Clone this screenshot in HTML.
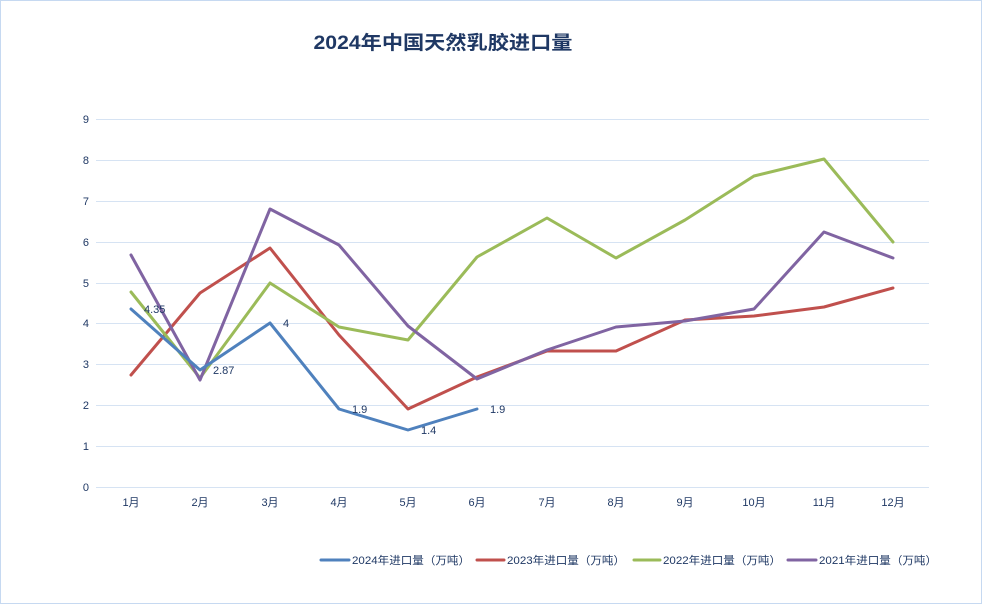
<!DOCTYPE html><html><head><meta charset="utf-8"><style>body{margin:0;background:#fff}svg{display:block}</style></head><body>
<svg width="982" height="604" xmlns="http://www.w3.org/2000/svg" font-family="Liberation Sans, Noto Sans CJK SC, sans-serif">
<rect x="0.5" y="0.5" width="981" height="603" fill="#fff" stroke="#c6d9f1"/>
<text x="443" y="49" text-anchor="middle" font-size="19" font-weight="bold" fill="#1f3864" textLength="259" lengthAdjust="spacingAndGlyphs">2024年中国天然乳胶进口量</text>
<g stroke="#d6e3f3" stroke-width="1">
<line x1="96" x2="929" y1="487.5" y2="487.5"/><line x1="96" x2="929" y1="446.5" y2="446.5"/><line x1="96" x2="929" y1="405.5" y2="405.5"/><line x1="96" x2="929" y1="364.5" y2="364.5"/><line x1="96" x2="929" y1="323.5" y2="323.5"/><line x1="96" x2="929" y1="283.5" y2="283.5"/><line x1="96" x2="929" y1="242.5" y2="242.5"/><line x1="96" x2="929" y1="201.5" y2="201.5"/><line x1="96" x2="929" y1="160.5" y2="160.5"/><line x1="96" x2="929" y1="119.5" y2="119.5"/>
</g>
<g font-size="11" fill="#1f3864" text-anchor="end">
<text x="89" y="491">0</text><text x="89" y="450">1</text><text x="89" y="409">2</text><text x="89" y="368">3</text><text x="89" y="327">4</text><text x="89" y="287">5</text><text x="89" y="246">6</text><text x="89" y="205">7</text><text x="89" y="164">8</text><text x="89" y="123">9</text>
</g>
<g font-size="11" fill="#1f3864" text-anchor="middle">
<text x="131" y="506">1月</text><text x="200" y="506">2月</text><text x="270" y="506">3月</text><text x="339" y="506">4月</text><text x="408" y="506">5月</text><text x="477" y="506">6月</text><text x="547" y="506">7月</text><text x="616" y="506">8月</text><text x="685" y="506">9月</text><text x="754" y="506">10月</text><text x="824" y="506">11月</text><text x="893" y="506">12月</text>
</g>
<g fill="none" stroke-width="3" stroke-linejoin="round" stroke-linecap="round">
<polyline stroke="#c0504d" points="131,375 200,293 270,248 339,335 408,409 477,377 547,351 616,351 685,320 754,316 824,307 893,288"/>
<polyline stroke="#9bbb59" points="131,292 200,378 270,283 339,327 408,340 477,257 547,218 616,258 685,220 754,176 824,159 893,242"/>
<polyline stroke="#8064a2" points="131,255 200,380 270,209 339,245 408,326 477,379 547,350 616,327 685,321 754,309 824,232 893,258"/>
<polyline stroke="#4f81bd" points="131,309 200,370 270,323 339,409 408,430 477,409"/>
</g>
<g font-size="11" fill="#1f3864">
<text x="144" y="313">4.35</text><text x="213" y="374">2.87</text><text x="283" y="327">4</text><text x="352" y="413">1.9</text><text x="421" y="434">1.4</text><text x="490" y="413">1.9</text>
</g>
<g font-size="11" fill="#1f3864" stroke-width="3" stroke-linecap="round">
<line x1="321" x2="349" y1="560" y2="560" stroke="#4f81bd"/><text x="352" y="564" textLength="118" lengthAdjust="spacingAndGlyphs">2024年进口量（万吨）</text>
<line x1="477" x2="504" y1="560" y2="560" stroke="#c0504d"/><text x="507" y="564" textLength="118" lengthAdjust="spacingAndGlyphs">2023年进口量（万吨）</text>
<line x1="634" x2="660" y1="560" y2="560" stroke="#9bbb59"/><text x="663" y="564" textLength="118" lengthAdjust="spacingAndGlyphs">2022年进口量（万吨）</text>
<line x1="788" x2="816" y1="560" y2="560" stroke="#8064a2"/><text x="819" y="564" textLength="118" lengthAdjust="spacingAndGlyphs">2021年进口量（万吨）</text>
</g>
</svg>
</body></html>
